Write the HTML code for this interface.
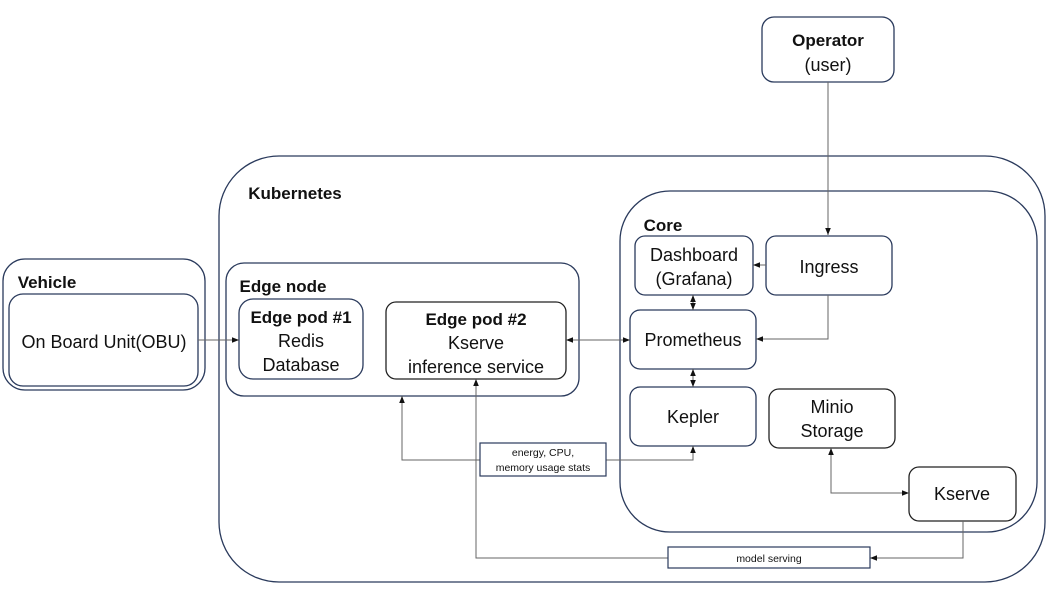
<!DOCTYPE html>
<html><head><meta charset="utf-8"><style>
html,body{margin:0;padding:0;background:#fff;}
svg{display:block;font-family:"Liberation Sans",sans-serif;}
.b{fill:#fff;stroke:#2a3a5c;stroke-width:1.3}
.k{fill:#fff;stroke:#222;stroke-width:1.3}
.l{fill:none;stroke:#666;stroke-width:1}
text{fill:#111;text-anchor:middle}
.t{font-size:18px}
.h{font-size:17px;font-weight:bold}
</style></head><body>
<svg width="1056" height="594" viewBox="0 0 1056 594">
<defs><marker id="a" viewBox="0 0 10 10" refX="10" refY="5" markerWidth="7" markerHeight="7" orient="auto-start-reverse"><path d="M0,1L10,5L0,9z" fill="#111"/></marker></defs>
<rect class="b" x="762" y="17" width="132" height="65" rx="12"/>
<text class="h" x="828" y="46">Operator</text><text class="t" x="828" y="71">(user)</text>
<rect class="b" x="219" y="156" width="826" height="426" rx="60"/>
<text class="h" x="295" y="199">Kubernetes</text>
<rect class="b" x="620" y="191" width="417" height="341" rx="50"/>
<text class="h" x="663" y="231">Core</text>
<rect class="b" x="635" y="236" width="118" height="59" rx="10"/>
<text class="t" x="694" y="261">Dashboard</text><text class="t" x="694" y="285">(Grafana)</text>
<rect class="b" x="766" y="236" width="126" height="59" rx="10"/>
<text class="t" x="829" y="273">Ingress</text>
<rect class="b" x="630" y="310" width="126" height="59" rx="10"/>
<text class="t" x="693" y="346">Prometheus</text>
<rect class="b" x="630" y="387" width="126" height="59" rx="10"/>
<text class="t" x="693" y="423">Kepler</text>
<rect class="k" x="769" y="389" width="126" height="59" rx="10"/>
<text class="t" x="832" y="413">Minio</text><text class="t" x="832" y="437">Storage</text>
<rect class="k" x="909" y="467" width="107" height="54" rx="10"/>
<text class="t" x="962" y="500">Kserve</text>
<rect class="b" x="3" y="259" width="202" height="131" rx="22"/>
<rect class="b" x="9" y="294" width="189" height="92" rx="14"/>
<text class="h" x="47" y="288">Vehicle</text>
<text class="t" x="104" y="348">On Board Unit(OBU)</text>
<rect class="b" x="226" y="263" width="353" height="133" rx="18"/>
<text class="h" x="283" y="292">Edge node</text>
<rect class="b" x="239" y="299" width="124" height="80" rx="14"/>
<text class="h" x="301" y="323">Edge pod #1</text><text class="t" x="301" y="347">Redis</text><text class="t" x="301" y="371">Database</text>
<rect class="k" x="386" y="302" width="180" height="77" rx="10"/>
<text class="h" x="476" y="325">Edge pod #2</text><text class="t" x="476" y="349">Kserve</text><text class="t" x="476" y="373">inference service</text>
<path class="l" d="M828,82V235" marker-end="url(#a)"/>
<path class="l" d="M198,340H239" marker-end="url(#a)"/>
<path class="l" d="M566,340H630" marker-start="url(#a)" marker-end="url(#a)"/>
<path class="l" d="M828,295V339H756" marker-end="url(#a)"/>
<path class="l" d="M766,265H753" marker-end="url(#a)"/>
<path class="l" d="M693,295V310" marker-start="url(#a)" marker-end="url(#a)"/>
<path class="l" d="M693,369V387" marker-start="url(#a)" marker-end="url(#a)"/>
<path class="l" d="M480,460H402V396" marker-end="url(#a)"/>
<path class="l" d="M606,460H693V446" marker-end="url(#a)"/>
<path class="l" d="M831,448V493H909" marker-start="url(#a)" marker-end="url(#a)"/>
<path class="l" d="M963,521V558H870" marker-end="url(#a)"/>
<path class="l" d="M668,558H476V379" marker-end="url(#a)"/>
<rect x="480" y="443" width="126" height="33" fill="#fff" stroke="#2a3a5c" stroke-width="1.2"/>
<text x="543" y="456" style="font-size:10.5px">energy, CPU,</text><text x="543" y="471" style="font-size:10.5px">memory usage stats</text>
<rect x="668" y="547" width="202" height="21" fill="#fff" stroke="#2a3a5c" stroke-width="1.2"/>
<text x="769" y="562" style="font-size:10.5px">model serving</text>
</svg>
</body></html>
